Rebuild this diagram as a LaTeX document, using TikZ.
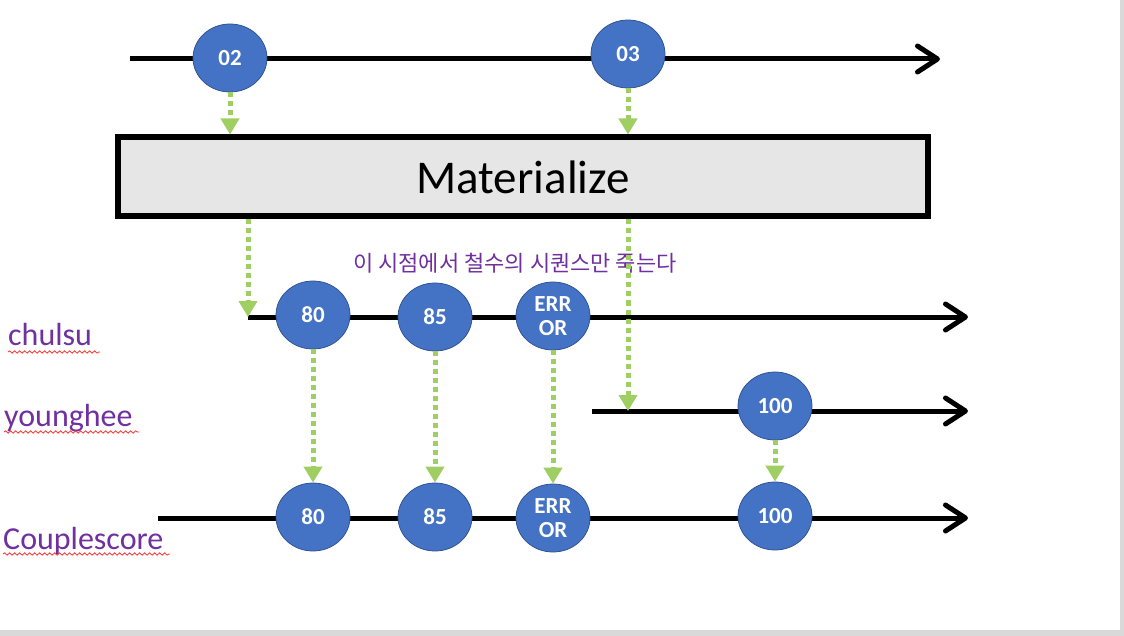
\documentclass[tikz,border=0pt]{standalone}
\usepackage{fontspec}
\setmainfont{Carlito}
\newfontfamily\kofont{Noto Sans CJK KR}
\usetikzlibrary{arrows.meta,shapes.geometric,decorations.pathmorphing}

\definecolor{marbleblue}{HTML}{4472C4}
\definecolor{marbleedge}{HTML}{2F528F}
\definecolor{flowgreen}{HTML}{9FCF63}
\definecolor{labelpurple}{HTML}{7030A0}
\definecolor{boxgray}{HTML}{E6E6E6}
\definecolor{edgegray}{HTML}{D9D9D9}

\tikzset{
  timeline/.style={line width=5pt, -{Straight Barb[length=20pt,width=26pt,round]}},
  marble/.style={ellipse, fill=marbleblue, draw=marbleedge, line width=0.75pt,
    minimum width=74pt, minimum height=68pt, inner sep=0pt, text=white,
    font=\fontsize{23}{24}\selectfont\bfseries, align=center},
  flow/.style={flowgreen, line width=5pt, dash pattern=on 5pt off 4pt,
    -{Triangle[length=16pt,width=18pt]}},
  streamlabel/.style={labelpurple, anchor=base west, inner sep=0pt,
    font=\fontsize{32}{36}\selectfont},
  squiggle/.style={red!80, line width=0.8pt, decorate,
    decoration={snake, segment length=5pt, amplitude=1.2pt}}
}

\begin{document}
\begin{tikzpicture}[x=1pt, y=-1pt]
    \useasboundingbox (0,0) rectangle (1124,636);
    \fill[white] (0,0) rectangle (1124,636);
    \fill[edgegray] (1120,0) rectangle (1124,636);
    \fill[edgegray] (0,630) rectangle (1124,636);
    % source stream
    \coordinate (src0) at (130,59);
    \coordinate (src1) at (940,59);
    \draw[timeline] (src0) -- (src1);
    \node[marble] (m02) at (230,58) {02};
    \node[marble] (m03) at (628,54) {03};
    % operator
    \node[draw, line width=6pt, fill=boxgray, minimum width=810pt, minimum height=79pt,
      font=\fontsize{47}{56}\selectfont] (mat) at (523,177) {Materialize};
    \draw[flow] (m02) -- (m02 |- mat.north);
    \draw[flow] (m03) -- (m03 |- mat.north);
    \node[labelpurple, font=\kofont\fontsize{22}{26}\selectfont] (note) at (515,263)
      {이 시점에서 철수의 시퀀스만 죽는다};
    % chulsu
    \coordinate (ch0) at (248,317);
    \coordinate (ch1) at (968,317);
    \draw[timeline] (ch0) -- (ch1);
    \node[marble] (ch80) at (313,315) {80};
    \node[marble] (ch85) at (435,317) {85};
    \node[marble] (cherr) at (553,316) {ERR\\OR};
    \draw[flow] (mat.south -| ch0) -- (ch0);
    % younghee
    \coordinate (yh0) at (592,411);
    \coordinate (yh1) at (968,411);
    \draw[timeline] (yh0) -- (yh1);
    \node[marble] (yh100) at (775,406) {100};
    \draw[flow] (mat.south -| m03) -- (m03 |- yh0);
    % couplescore
    \coordinate (cs0) at (158,518);
    \coordinate (cs1) at (968,518);
    \draw[timeline] (cs0) -- (cs1);
    \node[marble] (cs80) at (313,517) {80};
    \node[marble] (cs85) at (435,517) {85};
    \node[marble] (cserr) at (553,518) {ERR\\OR};
    \node[marble] (cs100) at (775,516) {100};
    \draw[flow] (ch80) -- (cs80);
    \draw[flow] (ch85) -- (cs85);
    \draw[flow] (cherr) -- (cserr);
    \draw[flow] (yh100) -- (cs100);
    % stream names
    \node[streamlabel] (lch) at (8,345) {chulsu};
    \node[streamlabel] (lyh) at (4,426) {younghee};
    \node[streamlabel] (lcs) at (3,549) {Couplescore};
    \draw[squiggle] (8,352) -- (100,352);
    \draw[squiggle] (4,432) -- (139,432);
    \draw[squiggle] (3,554) -- (170,554);
\end{tikzpicture}
\end{document}
